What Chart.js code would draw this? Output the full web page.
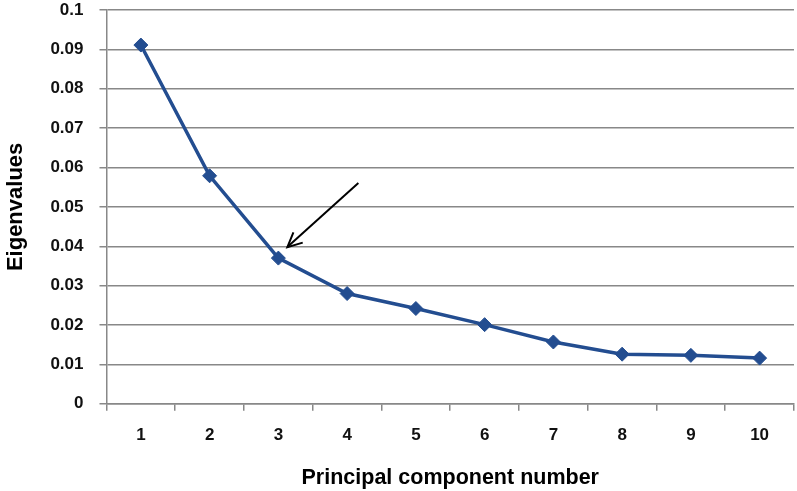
<!DOCTYPE html>
<html>
<head>
<meta charset="utf-8">
<script src="https://cdn.jsdelivr.net/npm/chart.js@4/dist/chart.umd.min.js"></script>
<style>
html,body{margin:0;padding:0;background:#fff;}
#wrap{width:797px;height:491px;position:relative;}
</style>
</head>
<body>
<div id="wrap"><canvas id="c" width="797" height="491"></canvas></div>
<script>
const categories = ["1","2","3","4","5","6","7","8","9","10"];
const eigenvalues = [0.0911, 0.0579, 0.0370, 0.0280, 0.0242, 0.0201, 0.0157, 0.0126, 0.0123, 0.0116];
const yTicks = [0, 0.01, 0.02, 0.03, 0.04, 0.05, 0.06, 0.07, 0.08, 0.09, 0.1];
const arrowTarget = {index: 2, value: 0.0370};

const FONT = "'Liberation Sans', Arial, sans-serif";

const arrowPlugin = {
  id: 'arrow',
  afterDatasetsDraw(chart) {
    const {ctx, scales: {x, y}} = chart;
    const px = x.getPixelForValue(arrowTarget.index);
    const py = y.getPixelForValue(arrowTarget.value);
    const tx = px + 9, ty = py - 11;
    const sx = tx + 71, sy = ty - 64;
    ctx.save();
    ctx.strokeStyle = '#000';
    ctx.lineWidth = 2;
    ctx.beginPath();
    ctx.moveTo(sx, sy);
    ctx.lineTo(tx, ty);
    ctx.stroke();
    const ang = Math.atan2(ty - sy, tx - sx);
    const L = 16, a = 0.45;
    ctx.beginPath();
    ctx.moveTo(tx - L * Math.cos(ang - a), ty - L * Math.sin(ang - a));
    ctx.lineTo(tx, ty);
    ctx.lineTo(tx - L * Math.cos(ang + a), ty - L * Math.sin(ang + a));
    ctx.stroke();
    ctx.restore();
  }
};

new Chart(document.getElementById('c'), {
  type: 'line',
  data: {
    labels: categories,
    datasets: [{
      data: eigenvalues,
      borderColor: '#234d90',
      backgroundColor: '#234d90',
      borderWidth: 3.5,
      pointStyle: 'rectRot',
      pointRadius: 7,
      pointHoverRadius: 7,
      pointBorderWidth: 1,
      tension: 0,
      fill: false
    }]
  },
  options: {
    responsive: false,
    animation: false,
    layout: {autoPadding: false, padding: {left: 3, right: 3, top: 10, bottom: 0}},
    plugins: {legend: {display: false}, tooltip: {enabled: false}},
    scales: {
      x: {
        offset: true,
        afterFit(axis) { axis.paddingLeft = 0; axis.paddingRight = 0; },
        grid: {display: true, drawOnChartArea: false, offset: true, color: '#888', lineWidth: 1.5, tickLength: 7},
        border: {color: '#888', width: 1.5},
        ticks: {color: '#111', font: {family: FONT, size: 17, weight: 'bold'}, padding: 14, maxRotation: 0},
        title: {display: true, text: 'Principal component number', color: '#000', font: {family: FONT, size: 21.5, weight: 'bold'}, padding: {top: 6, bottom: 0}}
      },
      y: {
        min: 0, max: 0.1,
        afterBuildTicks(axis) { axis.ticks = yTicks.map(v => ({value: v})); },
        afterFit(axis) { axis.paddingTop = 0; axis.paddingBottom = 0; },
        grid: {color: '#888', lineWidth: 1.5, tickLength: 7},
        border: {color: '#888', width: 1.5},
        ticks: {color: '#111', font: {family: FONT, size: 17, weight: 'bold'}, padding: 16,
          callback: v => String(+v.toFixed(2))},
        title: {display: true, text: 'Eigenvalues', color: '#000', font: {family: FONT, size: 22, weight: 'bold'}, padding: {top: 0, bottom: 5}}
      }
    }
  },
  plugins: [arrowPlugin]
});
</script>
</body>
</html>
